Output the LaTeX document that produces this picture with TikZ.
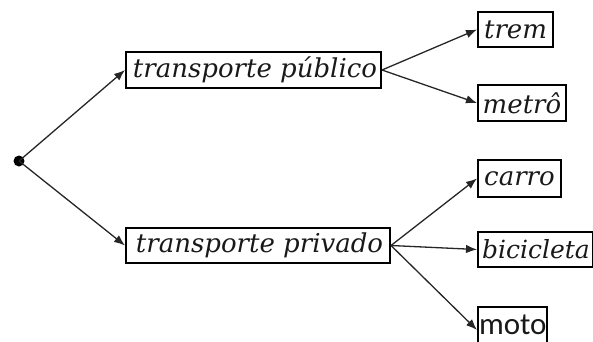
\documentclass[tikz,border=0pt]{standalone}
\usepackage{fontspec}
\setmainfont{DejaVu Serif}
\newfontfamily\mototext{Carlito}
\usetikzlibrary{arrows.meta}
\begin{document}
\begin{tikzpicture}[x=1pt,y=-1pt,
  option/.style={draw=black, line width=2pt, inner sep=0pt, anchor=west,
    minimum height=#1, text=black!90,
    font=\fontsize{26}{28}\selectfont\itshape},
  option/.default=36pt,
  link/.style={draw=black!85, line width=1.3pt, -{Latex[length=11pt,width=8.5pt]}}]
  \useasboundingbox (0,0) rectangle (593,341);
  % root point
  \node[circle, fill=black, inner sep=0pt, minimum size=11pt] (rootdot) at (19,161) {};
  % first level
  \node[option, minimum width=255pt] (pub) at (125,70) {\hspace{3pt}transporte público\hfill};
  \node[option=35pt, minimum width=264pt] (priv) at (125,245.5) {\hspace{3pt}transporte privado\hfill};
  % second level
  \node[option=35pt, minimum width=75pt] (trem) at (477,29.5) {trem};
  \node[option, minimum width=88pt] (metro) at (477,103) {metrô};
  \node[option=37pt, minimum width=83pt] (carro) at (477,178.5) {carro};
  \node[option=35pt, minimum width=115pt, font=\fontsize{25}{28}\selectfont\itshape] (bici) at (477,249.5) {\hspace{1pt}bicicleta\hfill};
  \node[option, minimum width=66pt, font=\fontsize{31}{32}\selectfont\mototext] (moto) at (477,325) {\hspace{1pt}moto\hfill};
  % connectors
  \draw[link] (rootdot.center) -- (pub.west);
  \draw[link] (rootdot.center) -- (priv.west);
  \draw[link] (pub.east) -- (trem.west);
  \draw[link] (pub.east) -- (metro.west);
  \draw[link] (priv.east) -- (carro.west);
  \draw[link] (priv.east) -- (bici.west);
  \draw[link] (priv.east) -- ([yshift=-5pt]moto.west);
\end{tikzpicture}
\end{document}
